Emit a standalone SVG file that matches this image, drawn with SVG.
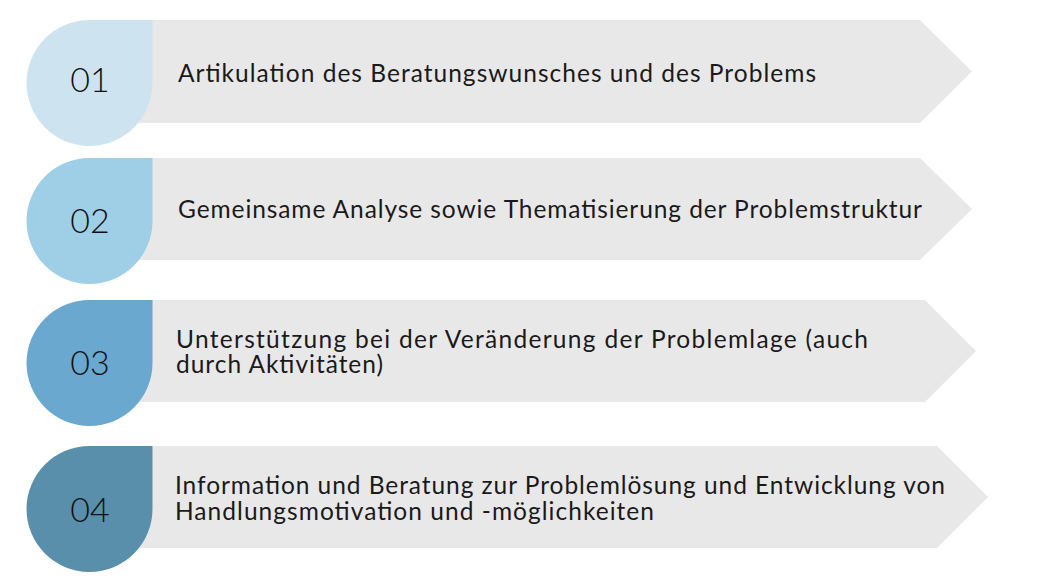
<svg xmlns="http://www.w3.org/2000/svg" width="1046" height="586" viewBox="0 0 1046 586">
<style>
.banner{fill:#e9e8e9}
.txt{font-family:Lato,"Liberation Sans",sans-serif;font-size:24.5px;fill:#1a1a1a}
.num{font-family:Lato,"Liberation Sans",sans-serif;font-size:34px;font-weight:300;fill:#111;text-anchor:middle}
</style>
<rect width="1046" height="586" fill="#ffffff"/>
<g id="step01">
<path class="banner" d="M120,20 L920,20 L972,71.5 L920,123 L120,123 Z"/>
<path fill="#cde4f0" d="M152.5,20 L152.5,83 A63,63 0 0 1 89.5,146 A63,63 0 0 1 26.5,83 A63,63 0 0 1 89.5,20 Z"/>
<text class="num" x="90" y="92">01</text>
<text class="txt" x="178" y="82" textLength="638">Artikulation des Beratungswunsches und des Problems</text>
</g>
<g id="step02">
<path class="banner" d="M120,158 L920,158 L972,209 L920,260 L120,260 Z"/>
<path fill="#9fcfe7" d="M152.5,158 L152.5,221 A63,63 0 0 1 89.5,284 A63,63 0 0 1 26.5,221 A63,63 0 0 1 89.5,158 Z"/>
<text class="num" x="90" y="233">02</text>
<text class="txt" x="178" y="218" textLength="744">Gemeinsame Analyse sowie Thematisierung der Problemstruktur</text>
</g>
<g id="step03">
<path class="banner" d="M120,300 L925,300 L976,351 L925,402 L120,402 Z"/>
<path fill="#6aa8d0" d="M152.5,300 L152.5,363 A63,63 0 0 1 89.5,426 A63,63 0 0 1 26.5,363 A63,63 0 0 1 89.5,300 Z"/>
<text class="num" x="90" y="375">03</text>
<text class="txt" x="176" y="348" textLength="692">Unterstützung bei der Veränderung der Problemlage (auch</text>
<text class="txt" x="176" y="373" textLength="207">durch Aktivitäten)</text>
</g>
<g id="step04">
<path class="banner" d="M120,446 L937,446 L988,497 L937,548 L120,548 Z"/>
<path fill="#5a8fab" d="M152.5,446 L152.5,509 A63,63 0 0 1 89.5,572 A63,63 0 0 1 26.5,509 A63,63 0 0 1 89.5,446 Z"/>
<text class="num" x="90" y="522">04</text>
<text class="txt" x="175" y="494" textLength="770">Information und Beratung zur Problemlösung und Entwicklung von</text>
<text class="txt" x="175" y="520" textLength="479">Handlungsmotivation und -möglichkeiten</text>
</g>
<g id="connectors"></g>
</svg>
